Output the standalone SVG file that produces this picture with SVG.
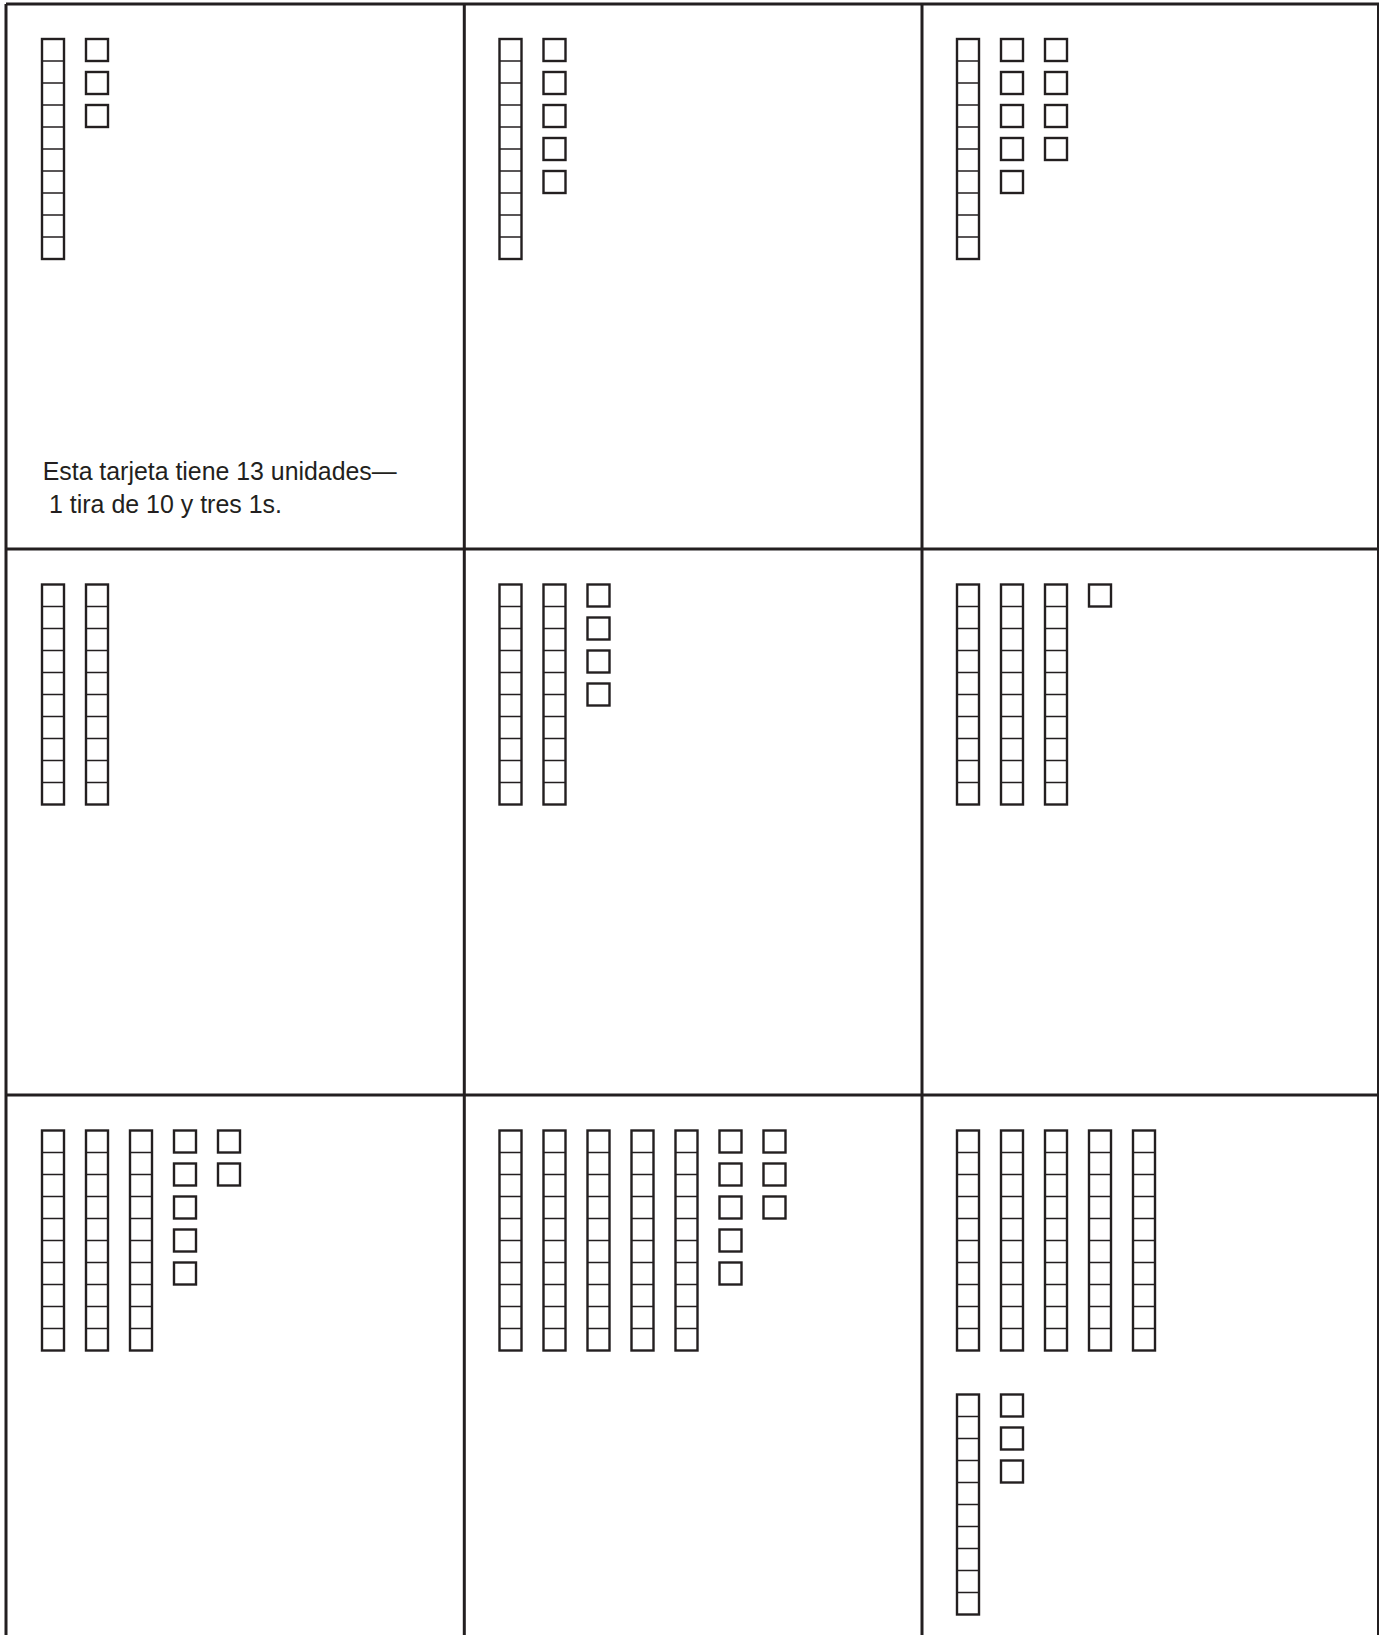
<svg xmlns="http://www.w3.org/2000/svg" xmlns:xlink="http://www.w3.org/1999/xlink" width="1379" height="1635" viewBox="0 0 1379 1635">
<style>
.grid{stroke:#231f20;stroke-width:3;fill:none}
.blk{fill:#fff;stroke:#231f20;stroke-width:2.4}
.div{stroke:#231f20;stroke-width:1.6}
.txt{font-family:"Liberation Sans",Arial,sans-serif;font-size:25px;fill:#231f20}
</style>
<defs>
<g id="ten">
<rect class="blk" x="0" y="0" width="22" height="220"/>
<path class="div" d="M0 22H22M0 44H22M0 66H22M0 88H22M0 110H22M0 132H22M0 154H22M0 176H22M0 198H22"/>
</g>
<rect id="one" class="blk" x="0" y="0" width="22" height="22"/>
</defs>
<rect width="1379" height="1635" fill="#fff"/>
<g id="connectors">
<path class="grid" d="M6 4H1379M6 549H1379M6 1095H1379M6 4V1635M464.3 4V1635M922 4V1635"/>
<path stroke="#231f20" stroke-width="2" d="M1378 4V1635"/>
</g>
<g id="card1">
<use xlink:href="#ten" x="42" y="39"/>
<use xlink:href="#one" x="86" y="39"/><use xlink:href="#one" x="86" y="72"/><use xlink:href="#one" x="86" y="105"/>
<text class="txt" x="42.7" y="480" textLength="354" lengthAdjust="spacingAndGlyphs">Esta tarjeta tiene 13 unidades—</text>
<text class="txt" x="49" y="513" textLength="233" lengthAdjust="spacingAndGlyphs">1 tira de 10 y tres 1s.</text>
</g>
<g id="card2">
<use xlink:href="#ten" x="499.5" y="39"/>
<use xlink:href="#one" x="543.5" y="39"/><use xlink:href="#one" x="543.5" y="72"/><use xlink:href="#one" x="543.5" y="105"/><use xlink:href="#one" x="543.5" y="138"/><use xlink:href="#one" x="543.5" y="171"/>
</g>
<g id="card3">
<use xlink:href="#ten" x="957" y="39"/>
<use xlink:href="#one" x="1001" y="39"/><use xlink:href="#one" x="1001" y="72"/><use xlink:href="#one" x="1001" y="105"/><use xlink:href="#one" x="1001" y="138"/><use xlink:href="#one" x="1001" y="171"/>
<use xlink:href="#one" x="1045" y="39"/><use xlink:href="#one" x="1045" y="72"/><use xlink:href="#one" x="1045" y="105"/><use xlink:href="#one" x="1045" y="138"/>
</g>
<g id="card4">
<use xlink:href="#ten" x="42" y="584.5"/><use xlink:href="#ten" x="86" y="584.5"/>
</g>
<g id="card5">
<use xlink:href="#ten" x="499.5" y="584.5"/><use xlink:href="#ten" x="543.5" y="584.5"/>
<use xlink:href="#one" x="587.5" y="584.5"/><use xlink:href="#one" x="587.5" y="617.5"/><use xlink:href="#one" x="587.5" y="650.5"/><use xlink:href="#one" x="587.5" y="683.5"/>
</g>
<g id="card6">
<use xlink:href="#ten" x="957" y="584.5"/><use xlink:href="#ten" x="1001" y="584.5"/><use xlink:href="#ten" x="1045" y="584.5"/>
<use xlink:href="#one" x="1089" y="584.5"/>
</g>
<g id="card7">
<use xlink:href="#ten" x="42" y="1130.5"/><use xlink:href="#ten" x="86" y="1130.5"/><use xlink:href="#ten" x="130" y="1130.5"/>
<use xlink:href="#one" x="174" y="1130.5"/><use xlink:href="#one" x="174" y="1163.5"/><use xlink:href="#one" x="174" y="1196.5"/><use xlink:href="#one" x="174" y="1229.5"/><use xlink:href="#one" x="174" y="1262.5"/>
<use xlink:href="#one" x="218" y="1130.5"/><use xlink:href="#one" x="218" y="1163.5"/>
</g>
<g id="card8">
<use xlink:href="#ten" x="499.5" y="1130.5"/><use xlink:href="#ten" x="543.5" y="1130.5"/><use xlink:href="#ten" x="587.5" y="1130.5"/><use xlink:href="#ten" x="631.5" y="1130.5"/><use xlink:href="#ten" x="675.5" y="1130.5"/>
<use xlink:href="#one" x="719.5" y="1130.5"/><use xlink:href="#one" x="719.5" y="1163.5"/><use xlink:href="#one" x="719.5" y="1196.5"/><use xlink:href="#one" x="719.5" y="1229.5"/><use xlink:href="#one" x="719.5" y="1262.5"/>
<use xlink:href="#one" x="763.5" y="1130.5"/><use xlink:href="#one" x="763.5" y="1163.5"/><use xlink:href="#one" x="763.5" y="1196.5"/>
</g>
<g id="card9">
<use xlink:href="#ten" x="957" y="1130.5"/><use xlink:href="#ten" x="1001" y="1130.5"/><use xlink:href="#ten" x="1045" y="1130.5"/><use xlink:href="#ten" x="1089" y="1130.5"/><use xlink:href="#ten" x="1133" y="1130.5"/>
<use xlink:href="#ten" x="957" y="1394.5"/>
<use xlink:href="#one" x="1001" y="1394.5"/><use xlink:href="#one" x="1001" y="1427.5"/><use xlink:href="#one" x="1001" y="1460.5"/>
</g>
</svg>
